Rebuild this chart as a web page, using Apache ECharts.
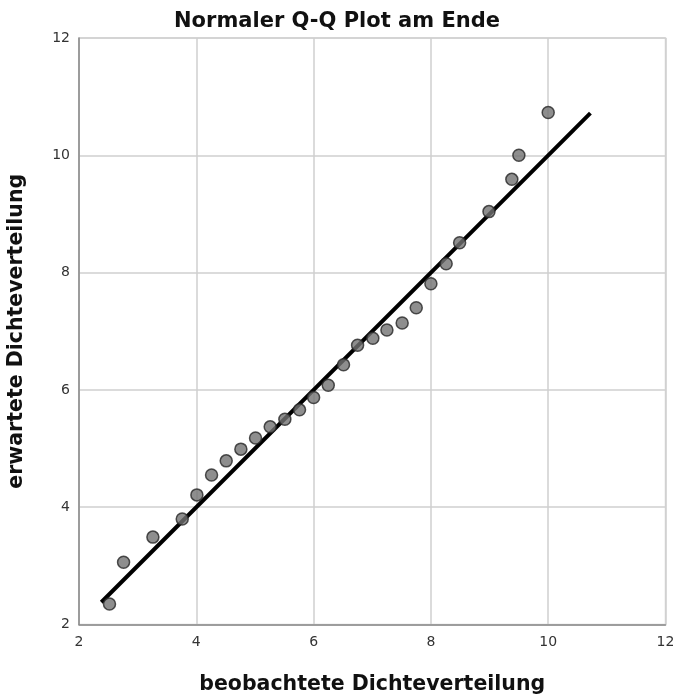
<!DOCTYPE html>
<html>
<head>
<meta charset="utf-8">
<script src="https://cdn.jsdelivr.net/npm/echarts@6/dist/echarts.min.js"></script>
<style>html,body{margin:0;padding:0;background:#fff}#c{width:676px;height:695px}</style>
</head>
<body>
<div id="c"></div>
<script>
const title = "Normaler Q-Q Plot am Ende";
const xName = "beobachtete Dichteverteilung";
const yName = "erwartete Dichteverteilung";
const observed = [2.52, 2.76, 3.26, 3.76, 4.01, 4.26, 4.51, 4.76, 5.01, 5.26, 5.51, 5.76, 6.00, 6.25, 6.51, 6.75, 7.01, 7.25, 7.51, 7.75, 8.00, 8.26, 8.49, 8.99, 9.38, 9.50, 10.00];
const expected = [2.35, 3.06, 3.49, 3.80, 4.21, 4.55, 4.79, 4.99, 5.18, 5.37, 5.50, 5.66, 5.87, 6.08, 6.43, 6.76, 6.88, 7.02, 7.14, 7.40, 7.81, 8.15, 8.51, 9.04, 9.59, 10.00, 10.73];
const refLineX = [2.38, 10.72];
const refLineY = [2.38, 10.72];

const points = observed.map((v, i) => [v, expected[i]]);
const refLine = refLineX.map((v, i) => [v, refLineY[i]]);

const chart = echarts.init(document.getElementById('c'), null, {renderer: 'canvas'});
const FONT = 'DejaVu Sans';
const axisCommon = {
  min: 2, max: 12, interval: 2,
  axisLine: {show: true, lineStyle: {color: '#8a8a8a', width: 1.5}},
  axisTick: {show: false},
  splitLine: {show: true, lineStyle: {color: '#cfcfcf', width: 1.5}},
  axisLabel: {color: '#333', fontSize: 14, fontFamily: FONT},
  nameTextStyle: {color: '#111', fontSize: 20.5, fontWeight: 'bold', fontFamily: FONT}
};
chart.setOption({
  animation: false,
  backgroundColor: '#fff',
  title: {
    text: title, left: 332, top: 6, textAlign: 'center',
    textStyle: {fontSize: 21, fontWeight: 'bold', color: '#111', fontFamily: FONT}
  },
  grid: {left: 79, right: 10.5, top: 38, bottom: 70.5, show: true, borderColor: '#d8d8d8', borderWidth: 1.5, containLabel: false, outerBoundsMode: 'none'},
  xAxis: Object.assign({}, axisCommon, {
    type: 'value', name: xName, nameLocation: 'middle', nameGap: 50,
    axisLabel: Object.assign({}, axisCommon.axisLabel, {margin: 11})
  }),
  yAxis: Object.assign({}, axisCommon, {
    type: 'value', name: yName, nameLocation: 'middle', nameGap: 52,
    axisLabel: Object.assign({}, axisCommon.axisLabel, {margin: 9})
  }),
  series: [
    {
      type: 'line', data: refLine, symbol: 'none', z: 2,
      lineStyle: {color: '#000', width: 4}
    },
    {
      type: 'scatter', data: points, symbol: 'circle', symbolSize: 12, z: 3,
      itemStyle: {color: '#727272', borderColor: '#262626', borderWidth: 1.5}
    }
  ]
});
</script>
</body>
</html>
